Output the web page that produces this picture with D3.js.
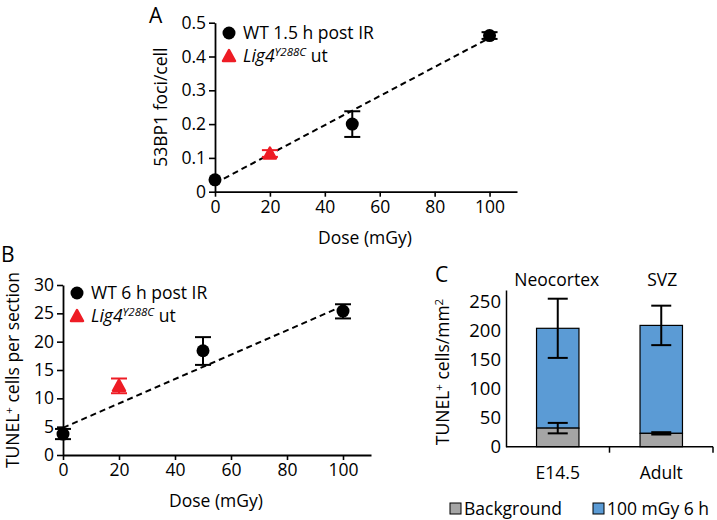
<!DOCTYPE html>
<html>
<head>
<meta charset="utf-8">
<script src="https://cdn.jsdelivr.net/npm/d3@7"></script>
<style>
  body { margin: 0; background: #fff; }
  svg text { font-family: "Open Sans", sans-serif; fill: #000; }
</style>
</head>
<body>
<div id="chart"></div>
<script>
// Panel A: 53BP1 foci per cell vs dose
const doseTicks = [0, 20, 40, 60, 80, 100];
const wtA = [
  { dose: 0, value: 0.035, lo: 0.035, hi: 0.035 },
  { dose: 50, value: 0.200, lo: 0.162, hi: 0.238 },
  { dose: 100, value: 0.462, lo: 0.452, hi: 0.472 }
];
const ligA = [{ dose: 20, value: 0.113, lo: 0.103, hi: 0.123 }];
const fitA = [{ dose: 0, value: 0.025 }, { dose: 100, value: 0.455 }];
const yTicksA = [0, 0.1, 0.2, 0.3, 0.4, 0.5];

// Panel B: TUNEL+ cells per section vs dose
const wtB = [
  { dose: 0, value: 3.7, lo: 2.8, hi: 4.6 },
  { dose: 50, value: 18.4, lo: 15.9, hi: 20.8 },
  { dose: 100, value: 25.4, lo: 24.1, hi: 26.6 }
];
const ligB = [{ dose: 20, value: 12.2, lo: 10.9, hi: 13.5 }];
const fitB = [{ dose: 0, value: 4.8 }, { dose: 100, value: 26.3 }];
const yTicksB = [0, 5, 10, 15, 20, 25, 30];

// Panel C: stacked bars
const categoriesC = ["E14.5", "Adult"];
const regionsC = ["Neocortex", "SVZ"];
const backgroundC = [32, 23];
const backgroundErrC = [[23, 41], [21, 25]];
const totalC = [204, 209];
const totalErrC = [[153, 255], [175, 243]];
const yTicksC = [0, 50, 100, 150, 200, 250];
const legendC = ["Background", "100 mGy 6 h"];
const colorsC = ["#a5a5a5", "#5b9bd5"];

const RED = "#ee1c25";
const FS = 17.5;

const svg = d3.select("#chart").append("svg")
    .attr("width", 717)
    .attr("height", 520);

function triangle(g, x, y) {
  g.append("path")
    .attr("d", `M${x},${y - 6} L${x + 6},${y + 5} L${x - 6},${y + 5} Z`)
    .attr("fill", RED)
    .attr("stroke", RED)
    .attr("stroke-width", 2.5)
    .attr("stroke-linejoin", "round");
}

function ligLabel(g, x, y) {
  const t = g.append("text").attr("x", x).attr("y", y).style("font-size", FS + "px");
  t.append("tspan").style("font-style", "italic").text("Lig4");
  t.append("tspan").style("font-style", "italic").style("font-size", "11.5px")
    .attr("dy", -6).text("Y288C");
  t.append("tspan").attr("dy", 6).text(" ut");
}

function scatterPanel(opts) {
  const x = d3.scaleLinear().domain([0, 110]).range([opts.left, opts.right]);
  const y = d3.scaleLinear().domain(opts.yDomain).range([opts.bottom, opts.top]);
  const g = svg.append("g");

  // axes
  g.append("g")
    .attr("transform", `translate(0,${opts.bottom})`)
    .call(d3.axisBottom(x).tickValues(doseTicks).tickSize(5).tickSizeOuter(0).tickPadding(4))
    .call(a => a.select(".domain").attr("stroke-width", 1.8))
    .call(a => a.selectAll("line").attr("stroke-width", 1.6))
    .call(a => a.selectAll("text").style("font-size", FS + "px").attr("font-family", null));

  g.append("g")
    .attr("transform", `translate(${opts.left},0)`)
    .call(d3.axisLeft(y).tickValues(opts.yTicks).tickSize(6).tickSizeOuter(0).tickPadding(3)
      .tickFormat(opts.fmt))
    .call(a => a.select(".domain").attr("stroke-width", 1.8))
    .call(a => a.selectAll("line").attr("stroke-width", 1.6))
    .call(a => a.selectAll("text").style("font-size", FS + "px").attr("font-family", null));

  // fit line
  g.append("path")
    .datum(opts.fit)
    .attr("d", d3.line().x(d => x(d.dose)).y(d => y(d.value)))
    .attr("fill", "none")
    .attr("stroke", "#000")
    .attr("stroke-width", 2)
    .attr("stroke-dasharray", "6,4");

  // error bars
  const all = opts.wt.map(d => ({ ...d, c: "#000" })).concat(opts.lig.map(d => ({ ...d, c: RED })));
  all.forEach(d => {
    if (d.hi === d.lo) return;
    const cx = x(d.dose);
    g.append("line").attr("x1", cx).attr("x2", cx).attr("y1", y(d.lo)).attr("y2", y(d.hi))
      .attr("stroke", d.c).attr("stroke-width", 2);
    [d.lo, d.hi].forEach(v => {
      g.append("line").attr("x1", cx - 8).attr("x2", cx + 8).attr("y1", y(v)).attr("y2", y(v))
        .attr("stroke", d.c).attr("stroke-width", 2);
    });
  });

  g.selectAll(".wt").data(opts.wt).enter().append("circle")
    .attr("cx", d => x(d.dose)).attr("cy", d => y(d.value)).attr("r", 6.5).attr("fill", "#000");
  opts.lig.forEach(d => triangle(g, x(d.dose), y(d.value)));

  // legend
  g.append("circle").attr("cx", opts.legX).attr("cy", opts.legY).attr("r", 6.5).attr("fill", "#000");
  g.append("text").attr("x", opts.legX + 14).attr("y", opts.legY + 6)
    .style("font-size", FS + "px").text(opts.wtLabel);
  triangle(g, opts.legX, opts.legY + 23);
  ligLabel(g, opts.legX + 14, opts.legY + 29);

  // titles
  g.append("text")
    .attr("x", (opts.left + opts.right) / 2 - 1).attr("y", opts.bottom + 52)
    .attr("text-anchor", "middle").style("font-size", FS + "px").text("Dose (mGy)");
  const yt = g.append("text")
    .attr("transform", `translate(${opts.yTitleX},${(opts.top + opts.bottom) / 2}) rotate(-90)`)
    .attr("text-anchor", "middle").style("font-size", FS + "px");
  opts.yTitle(yt);

  g.append("text").attr("x", opts.letterX).attr("y", opts.letterY)
    .style("font-size", "21px").text(opts.letter);
}

scatterPanel({
  left: 215, right: 517, top: 22.7, bottom: 191.7,
  yDomain: [0, 0.5], yTicks: yTicksA, fmt: d => d === 0 ? "0" : d3.format(".1f")(d),
  wt: wtA, lig: ligA, fit: fitA,
  legX: 229, legY: 33, wtLabel: "WT 1.5 h post IR",
  yTitleX: 167,
  yTitle: t => t.text("53BP1 foci/cell"),
  letter: "A", letterX: 149, letterY: 23
});

scatterPanel({
  left: 63, right: 371, top: 285, bottom: 455,
  yDomain: [0, 30], yTicks: yTicksB, fmt: d3.format("d"),
  wt: wtB, lig: ligB, fit: fitB,
  legX: 77, legY: 293, wtLabel: "WT 6 h post IR",
  yTitleX: 19,
  yTitle: t => {
    t.append("tspan").text("TUNEL");
    t.append("tspan").attr("dy", -6).style("font-size", "11.5px").text("+");
    t.append("tspan").attr("dy", 6).text(" cells per section");
  },
  letter: "B", letterX: 1, letterY: 262
});

// Panel C
(function () {
  const left = 506, right = 713, bottom = 446.7;
  const y = d3.scaleLinear().domain([0, 270]).range([bottom, 290]);
  const x = d3.scaleBand().domain(categoriesC).range([left, right]).paddingInner(0).paddingOuter(0);
  const g = svg.append("g");
  const bw = x.bandwidth() * 0.41;

  categoriesC.forEach((c, i) => {
    const cx = x(c) + x.bandwidth() / 2;
    g.append("rect").attr("x", cx - bw / 2).attr("width", bw)
      .attr("y", y(totalC[i])).attr("height", y(backgroundC[i]) - y(totalC[i]))
      .attr("fill", colorsC[1]).attr("stroke", "#000").attr("stroke-width", 1.2);
    g.append("rect").attr("x", cx - bw / 2).attr("width", bw)
      .attr("y", y(backgroundC[i])).attr("height", y(0) - y(backgroundC[i]))
      .attr("fill", colorsC[0]).attr("stroke", "#000").attr("stroke-width", 1.2);
    [backgroundErrC[i], totalErrC[i]].forEach(e => {
      g.append("line").attr("x1", cx).attr("x2", cx).attr("y1", y(e[0])).attr("y2", y(e[1]))
        .attr("stroke", "#000").attr("stroke-width", 2);
      e.forEach(v => g.append("line").attr("x1", cx - 10).attr("x2", cx + 10)
        .attr("y1", y(v)).attr("y2", y(v)).attr("stroke", "#000").attr("stroke-width", 2));
    });
    g.append("text").attr("x", cx).attr("y", bottom + 32).attr("text-anchor", "middle")
      .style("font-size", FS + "px").text(c);
    g.append("text").attr("x", cx + (i === 0 ? -1 : 1)).attr("y", 286).attr("text-anchor", "middle")
      .style("font-size", FS + "px").text(regionsC[i]);
  });

  g.append("g")
    .attr("transform", `translate(${left},0)`)
    .call(d3.axisLeft(y).tickValues(yTicksC).tickSize(0).tickSizeOuter(0).tickPadding(5))
    .call(a => a.select(".domain").attr("stroke-width", 1.5))
    .call(a => a.selectAll("text").style("font-size", "18.5px").attr("font-family", null));

  // x axis with ticks at category boundaries
  g.append("line").attr("x1", left).attr("x2", right).attr("y1", bottom).attr("y2", bottom)
    .attr("stroke", "#000").attr("stroke-width", 1.5);
  categoriesC.forEach(c => {
    const bx = x(c) + x.bandwidth();
    g.append("line").attr("x1", bx).attr("x2", bx).attr("y1", bottom).attr("y2", bottom + 6)
      .attr("stroke", "#000").attr("stroke-width", 1.5);
  });

  const yt = g.append("text")
    .attr("transform", `translate(449,372) rotate(-90)`)
    .attr("text-anchor", "middle").style("font-size", FS + "px");
  yt.append("tspan").text("TUNEL");
  yt.append("tspan").attr("dy", -6).style("font-size", "11.5px").text("+");
  yt.append("tspan").attr("dy", 6).text(" cells/mm");
  yt.append("tspan").attr("dy", -6).style("font-size", "11.5px").text("2");

  g.append("text").attr("x", 435).attr("y", 282).style("font-size", "21px").text("C");

  const legX = [450, 593];
  legendC.forEach((l, i) => {
    g.append("rect").attr("x", legX[i]).attr("y", 503).attr("width", 11).attr("height", 11)
      .attr("fill", colorsC[i]).attr("stroke", "#000").attr("stroke-width", 1);
    g.append("text").attr("x", legX[i] + 14).attr("y", 515)
      .style("font-size", FS + "px").text(l);
  });
})();
</script>
</body>
</html>
